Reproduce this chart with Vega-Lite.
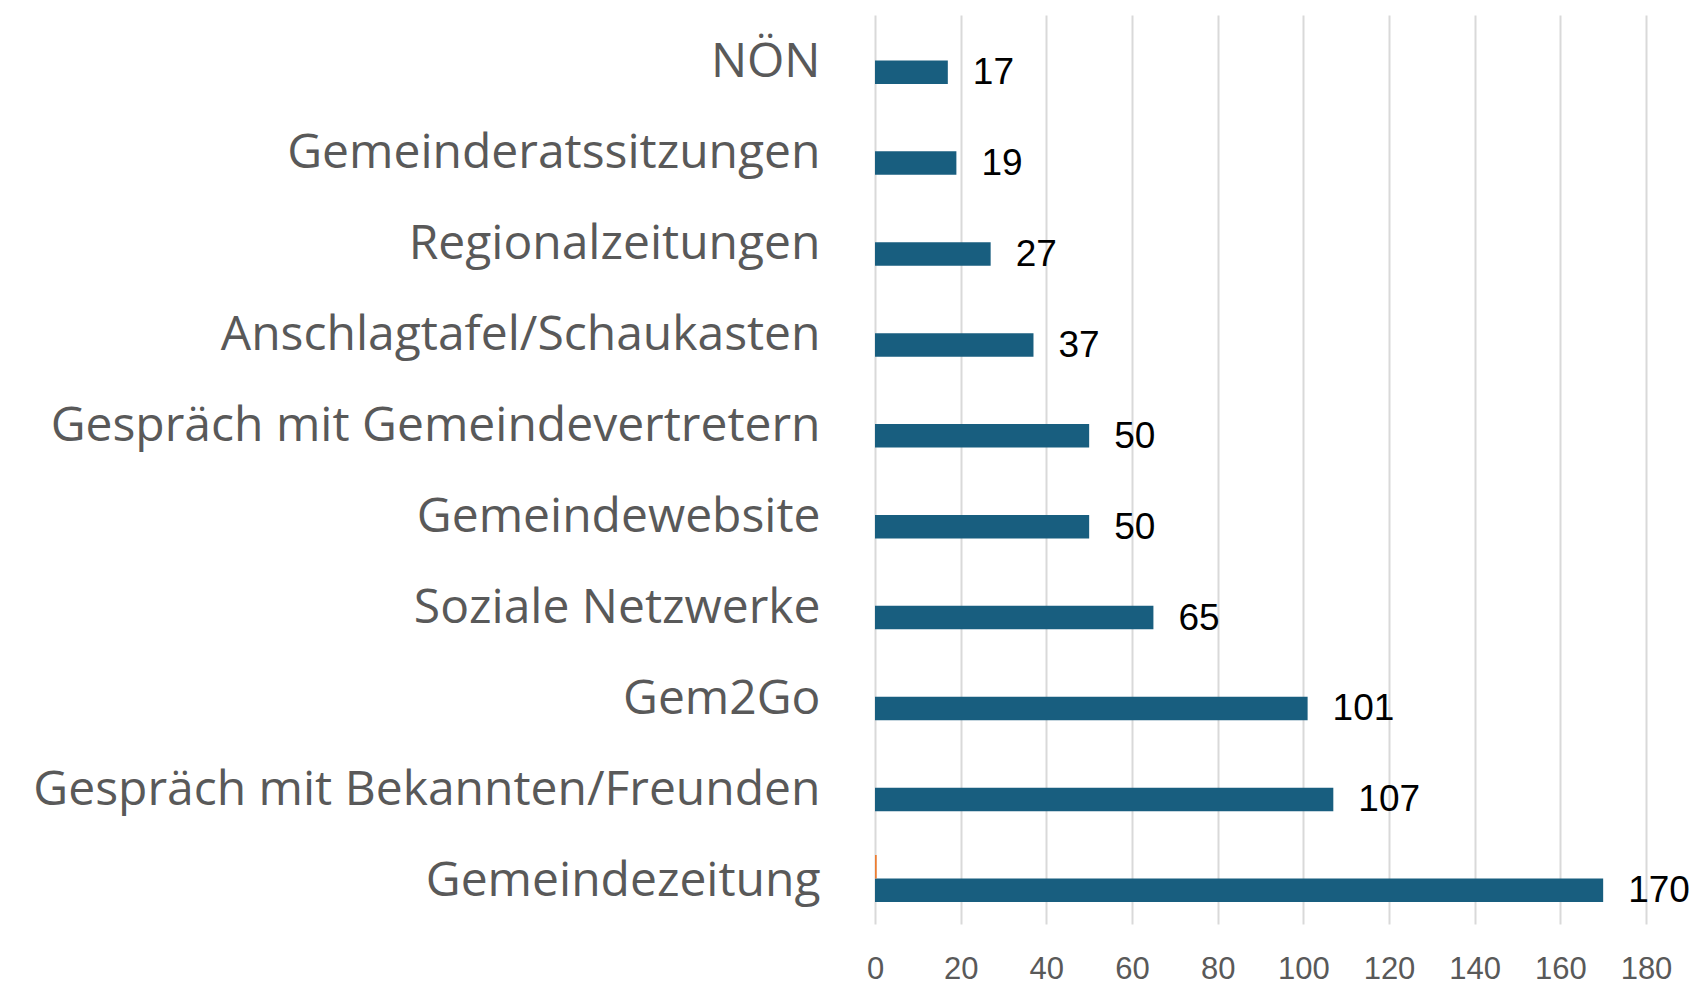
{
  "$schema": "https://vega.github.io/schema/vega-lite/v6.json",
  "width": 771,
  "height": 909,
  "autosize": {"type": "none"},
  "padding": {"left": 875, "top": 15, "right": 45, "bottom": 60},
  "background": "white",
  "config": {"view": {"stroke": null}},
  "data": {
    "values": [
      {"kanal": "NÖN", "serie": "Serie 1", "wert": 17},
      {"kanal": "Gemeinderatssitzungen", "serie": "Serie 1", "wert": 19},
      {"kanal": "Regionalzeitungen", "serie": "Serie 1", "wert": 27},
      {"kanal": "Anschlagtafel/Schaukasten", "serie": "Serie 1", "wert": 37},
      {"kanal": "Gespräch mit Gemeindevertretern", "serie": "Serie 1", "wert": 50},
      {"kanal": "Gemeindewebsite", "serie": "Serie 1", "wert": 50},
      {"kanal": "Soziale Netzwerke", "serie": "Serie 1", "wert": 65},
      {"kanal": "Gem2Go", "serie": "Serie 1", "wert": 101},
      {"kanal": "Gespräch mit Bekannten/Freunden", "serie": "Serie 1", "wert": 107},
      {"kanal": "Gemeindezeitung", "serie": "Serie 1", "wert": 170},
      {"kanal": "Gemeindezeitung", "serie": "Serie 2", "wert": 0.4}
    ]
  },
  "encoding": {
    "y": {
      "field": "kanal",
      "type": "nominal",
      "sort": null,
      "scale": {"paddingInner": 0.483, "paddingOuter": 0.2415},
      "axis": {
        "title": null,
        "domain": false,
        "ticks": false,
        "labelPadding": 55,
        "labelOffset": 3,
        "labelFont": "Open Sans",
        "labelFontSize": 48,
        "labelColor": "#595959",
        "labelLimit": 900
      }
    },
    "yOffset": {
      "field": "serie",
      "type": "nominal",
      "sort": ["Serie 2", "Serie 1"],
      "scale": {"paddingInner": 0, "paddingOuter": 0}
    }
  },
  "layer": [
    {
      "mark": {"type": "bar"},
      "encoding": {
        "x": {
          "field": "wert",
          "type": "quantitative",
          "scale": {"domain": [0, 180], "nice": false},
          "axis": {
            "title": null,
            "values": [0, 20, 40, 60, 80, 100, 120, 140, 160, 180],
            "grid": true,
            "gridColor": "#d9d9d9",
            "gridWidth": 2,
            "domain": false,
            "ticks": false,
            "labelFlush": false,
            "labelPadding": 30,
            "labelFont": "Liberation Sans",
            "labelFontSize": 31,
            "labelColor": "#595959"
          }
        },
        "color": {
          "field": "serie",
          "type": "nominal",
          "scale": {"domain": ["Serie 1", "Serie 2"], "range": ["#185e7f", "#ed7d31"]},
          "legend": null
        }
      }
    },
    {
      "transform": [{"filter": "datum.serie == 'Serie 1'"}],
      "mark": {
        "type": "text",
        "align": "left",
        "baseline": "middle",
        "dx": 25,
        "dy": 1,
        "font": "Liberation Sans",
        "fontSize": 37,
        "color": "#000000"
      },
      "encoding": {
        "x": {"field": "wert", "type": "quantitative"},
        "text": {"field": "wert", "type": "quantitative"}
      }
    }
  ]
}
